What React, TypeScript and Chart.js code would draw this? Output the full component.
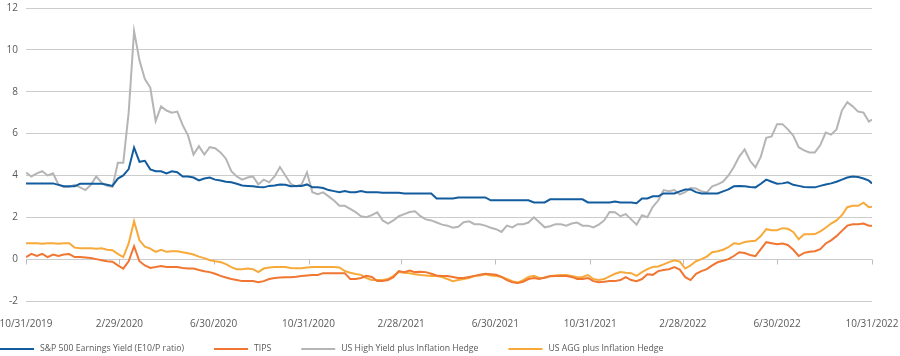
import { useEffect, useRef } from "react";
import { Chart, registerables } from "chart.js";

Chart.register(...registerables);

// ---------- data ----------
const startDate = "2019-10-31";
const endDate = "2022-10-31";
const weekCount = 157;

const tickLabels = [
  "10/31/2019", "2/29/2020", "6/30/2020", "10/31/2020", "2/28/2021",
  "6/30/2021", "10/31/2021", "2/28/2022", "6/30/2022", "10/31/2022",
];

const seriesNames = [
  "S&P 500 Earnings Yield (E10/P ratio)",
  "TIPS",
  "US High Yield plus Inflation Hedge",
  "US AGG plus Inflation Hedge",
];

const seriesColors = ["#135c9e", "#f07632", "#b5b5b5", "#f7aa3a"];

const spEarningsYield = [
  3.62, 3.62, 3.62, 3.62, 3.62, 3.62, 3.55, 3.48, 3.48, 3.48,
  3.6, 3.6, 3.6, 3.6, 3.6, 3.55, 3.5, 3.85, 4.0, 4.3,
  5.33, 4.65, 4.7, 4.29, 4.2, 4.2, 4.1, 4.2, 4.15, 3.95,
  3.95, 3.9, 3.76, 3.85, 3.9, 3.8, 3.76, 3.7, 3.67, 3.6,
  3.52, 3.5, 3.48, 3.45, 3.43, 3.5, 3.52, 3.57, 3.55, 3.48,
  3.5, 3.5, 3.57, 3.43, 3.43, 3.4, 3.3, 3.25, 3.2, 3.25,
  3.2, 3.2, 3.25, 3.2, 3.2, 3.2, 3.17, 3.17, 3.17, 3.17,
  3.14, 3.14, 3.14, 3.14, 3.14, 3.14, 2.9, 2.9, 2.9, 2.9,
  2.95, 2.95, 2.95, 2.95, 2.95, 2.95, 2.81, 2.81, 2.81, 2.81,
  2.81, 2.81, 2.81, 2.81, 2.71, 2.71, 2.71, 2.86, 2.86, 2.86,
  2.86, 2.86, 2.86, 2.86, 2.71, 2.71, 2.71, 2.71, 2.71, 2.75,
  2.71, 2.71, 2.71, 2.67, 2.9, 2.9, 3.0, 3.0, 3.14, 3.14,
  3.14, 3.24, 3.33, 3.33, 3.2, 3.14, 3.14, 3.14, 3.14, 3.24,
  3.33, 3.48, 3.5, 3.48, 3.45, 3.43, 3.6, 3.8, 3.7, 3.6,
  3.62, 3.67, 3.55, 3.5, 3.45, 3.43, 3.43, 3.5, 3.57, 3.62,
  3.7, 3.8, 3.9, 3.95, 3.92, 3.85, 3.75, 3.62,
];

const tips = [
  0.1, 0.25, 0.15, 0.25, 0.1, 0.22, 0.15, 0.22, 0.24, 0.1,
  0.1, 0.08, 0.05, 0.0, -0.05, -0.1, -0.12, -0.3, -0.45, -0.1,
  0.62, -0.1, -0.3, -0.42, -0.38, -0.33, -0.38, -0.38, -0.38, -0.42,
  -0.45, -0.45, -0.52, -0.58, -0.62, -0.7, -0.8, -0.88, -0.95, -1.0,
  -1.05, -1.05, -1.05, -1.1, -1.05, -0.95, -0.9, -0.88, -0.86, -0.86,
  -0.84, -0.81, -0.78, -0.76, -0.76, -0.67, -0.67, -0.67, -0.67, -0.67,
  -0.95, -0.95, -0.9, -0.8, -0.85, -1.05, -1.05, -1.0, -0.86, -0.57,
  -0.62, -0.55, -0.62, -0.6, -0.62, -0.7, -0.78, -0.81, -0.81, -0.85,
  -0.9, -0.9, -0.85, -0.8, -0.75, -0.7, -0.72, -0.75, -0.85, -1.0,
  -1.1, -1.14, -1.08, -0.95, -0.9, -0.95, -0.88, -0.82, -0.8, -0.8,
  -0.81, -0.85, -0.95, -0.95, -0.9, -1.05, -1.1, -1.08, -1.05, -1.05,
  -1.0, -0.86, -1.0, -1.05, -0.95, -0.72, -0.75, -0.57, -0.52, -0.48,
  -0.38, -0.5, -0.86, -1.0, -0.7, -0.57, -0.48, -0.3, -0.15, -0.08,
  0.0, 0.15, 0.33, 0.29, 0.2, 0.14, 0.48, 0.81, 0.76, 0.71,
  0.75, 0.68, 0.45, 0.15, 0.3, 0.35, 0.38, 0.48, 0.75, 0.9,
  1.1, 1.35, 1.6, 1.67, 1.67, 1.7, 1.6, 1.6,
];

const highYieldHedge = [
  4.14, 3.95, 4.1, 4.2, 4.0, 4.1, 3.57, 3.45, 3.45, 3.55,
  3.43, 3.3, 3.55, 3.95, 3.65, 3.5, 3.45, 4.6, 4.6, 7.0,
  10.9, 9.5, 8.6, 8.2, 6.6, 7.3, 7.1, 7.0, 7.05, 6.4,
  5.9, 5.0, 5.4, 5.0, 5.35, 5.3, 5.1, 4.8, 4.2, 3.95,
  3.8, 3.9, 3.95, 3.57, 3.8, 3.67, 3.95, 4.4, 4.0, 3.6,
  3.48, 3.57, 4.14, 3.2, 3.1, 3.19, 3.0, 2.8, 2.55, 2.55,
  2.4, 2.25, 2.05, 2.0, 2.1, 2.24, 1.85, 1.7, 1.85, 2.05,
  2.15, 2.25, 2.29, 2.05, 1.9, 1.85, 1.75, 1.65, 1.6, 1.5,
  1.55, 1.76, 1.81, 1.67, 1.67, 1.6, 1.5, 1.43, 1.3, 1.6,
  1.52, 1.67, 1.67, 1.75, 2.0, 1.76, 1.52, 1.57, 1.67, 1.67,
  1.6, 1.7, 1.75, 1.6, 1.6, 1.52, 1.65, 1.85, 2.25, 2.24,
  2.05, 2.15, 1.9, 1.65, 2.1, 2.0, 2.5, 2.8, 3.3, 3.24,
  3.3, 3.1, 3.2, 3.4, 3.38, 3.24, 3.19, 3.48, 3.57, 3.7,
  4.0, 4.4, 4.9, 5.24, 4.7, 4.38, 4.9, 5.8, 5.86, 6.45,
  6.45, 6.2, 5.9, 5.35, 5.2, 5.1, 5.1, 5.45, 6.05, 5.95,
  6.2, 7.1, 7.5, 7.3, 7.05, 7.0, 6.57, 6.67,
];

const aggHedge = [
  0.76, 0.76, 0.76, 0.74, 0.76, 0.76, 0.74, 0.76, 0.76, 0.55,
  0.52, 0.52, 0.52, 0.5, 0.52, 0.45, 0.43, 0.25, 0.1, 0.75,
  1.81, 0.9, 0.6, 0.5, 0.35, 0.45, 0.35, 0.38, 0.38, 0.33,
  0.28, 0.22, 0.12, 0.05, -0.05, -0.1, -0.14, -0.24, -0.38, -0.48,
  -0.48, -0.45, -0.48, -0.62, -0.45, -0.4, -0.38, -0.38, -0.38, -0.42,
  -0.43, -0.43, -0.4, -0.38, -0.38, -0.38, -0.38, -0.38, -0.4, -0.57,
  -0.65, -0.71, -0.75, -0.9, -1.0, -1.0, -1.0, -0.95, -0.8, -0.62,
  -0.65, -0.67, -0.72, -0.76, -0.78, -0.8, -0.81, -0.86, -0.95, -1.05,
  -1.0, -0.95, -0.9, -0.81, -0.78, -0.72, -0.78, -0.8, -0.85, -0.95,
  -1.05, -1.12, -1.0, -0.85, -0.8, -0.9, -0.9, -0.8, -0.78, -0.76,
  -0.76, -0.8, -0.86, -0.85, -0.76, -0.95, -1.0, -0.95, -0.82, -0.7,
  -0.62, -0.65, -0.67, -0.8, -0.62, -0.48, -0.38, -0.35, -0.25, -0.14,
  -0.05, -0.12, -0.45, -0.3, -0.1, 0.0, 0.12, 0.33, 0.38, 0.45,
  0.57, 0.76, 0.72, 0.82, 0.86, 0.88, 1.1, 1.43, 1.38, 1.38,
  1.48, 1.45, 1.3, 0.95, 1.19, 1.19, 1.2, 1.33, 1.5, 1.7,
  1.85, 2.1, 2.48, 2.55, 2.55, 2.7, 2.48, 2.5,
];

// ---------- helpers ----------
const DAY = 86400000;
const toUTC = (iso: string) => {
  const [y, m, d] = iso.split("-").map(Number);
  return Date.UTC(y, m - 1, d);
};
const fromLabel = (lbl: string) => {
  const [m, d, y] = lbl.split("/").map(Number);
  return Date.UTC(y, m - 1, d);
};
const t0 = toUTC(startDate);
const dayIndex = [
  ...Array.from({ length: weekCount }, (_, i) => i * 7),
  Math.round((toUTC(endDate) - t0) / DAY),
];
const tickDays = tickLabels.map((l) => Math.round((fromLabel(l) - t0) / DAY));

const allSeries = [spEarningsYield, tips, highYieldHedge, aggHedge];

const FONT = "'Open Sans', 'DejaVu Sans', sans-serif";
const TEXT = "#595959";

const zeroTicksPlugin = {
  id: "zeroTicks",
  beforeDatasetsDraw(chart: any) {
    const { ctx, scales } = chart;
    const x = scales.x;
    const y = scales.y;
    const y0 = Math.round(y.getPixelForValue(0)) + 0.5;
    ctx.save();
    ctx.strokeStyle = "#bdbdbd";
    ctx.lineWidth = 1;
    ctx.beginPath();
    tickDays.forEach((d) => {
      const px = Math.round(x.getPixelForValue(d)) + 0.5;
      ctx.moveTo(px, y0);
      ctx.lineTo(px, y0 + 5);
    });
    ctx.stroke();
    ctx.restore();
  },
};

const bottomLegendPlugin = {
  id: "bottomLegend",
  afterDraw(chart: any) {
    const { ctx } = chart;
    const lineLen = 34;
    const textGap = 6;
    const itemGap = 30;
    const yMid = chart.height - 7;
    ctx.save();
    ctx.font = `8.7px ${FONT}`;
    ctx.textBaseline = "middle";
    ctx.textAlign = "left";
    let x = 0;
    chart.data.datasets.forEach((ds: any) => {
      ctx.strokeStyle = ds.borderColor;
      ctx.lineWidth = 2;
      ctx.beginPath();
      ctx.moveTo(x, yMid);
      ctx.lineTo(x + lineLen, yMid);
      ctx.stroke();
      ctx.fillStyle = TEXT;
      ctx.fillText(ds.label, x + lineLen + textGap, yMid);
      x += lineLen + textGap + ctx.measureText(ds.label).width + itemGap;
    });
    ctx.restore();
  },
};

export default function App() {
  const ref = useRef<HTMLCanvasElement>(null);

  useEffect(() => {
    document.body.style.margin = "0";
    const canvas = ref.current;
    if (!canvas) return;
    const chart = new Chart(canvas, {
      type: "line",
      data: {
        datasets: seriesNames.map((name, si) => ({
          label: name,
          data: allSeries[si].map((v, i) => ({ x: dayIndex[i], y: v })),
          borderColor: seriesColors[si],
          backgroundColor: seriesColors[si],
          borderWidth: 2,
          pointRadius: 0,
          pointHoverRadius: 0,
          tension: 0,
          fill: false,
        })),
      },
      options: {
        animation: false,
        responsive: false,
        devicePixelRatio: 1,
        layout: { padding: { top: 8, right: 28, left: 0, bottom: 0 } },
        plugins: {
          legend: { display: false },
          tooltip: { enabled: false },
        },
        scales: {
          x: {
            type: "linear",
            min: 0,
            max: tickDays[tickDays.length - 1],
            grid: { display: false, drawTicks: false },
            border: { display: false },
            afterBuildTicks: (scale: any) => {
              scale.ticks = tickDays.map((v) => ({ value: v }));
            },
            afterFit: (scale: any) => {
              scale.height = 55;
              scale.paddingLeft = 0;
              scale.paddingRight = 0;
            },
            ticks: {
              autoSkip: false,
              maxRotation: 0,
              padding: 17,
              color: TEXT,
              font: { family: FONT, size: 10 },
              callback: (value: any) => {
                const idx = tickDays.indexOf(Number(value));
                return idx >= 0 ? tickLabels[idx] : "";
              },
            },
          },
          y: {
            min: -2,
            max: 12,
            grid: { color: "#cccccc", lineWidth: 1, drawTicks: false },
            border: { display: false },
            afterFit: (scale: any) => {
              scale.width = 26;
              scale.paddingTop = 0;
              scale.paddingBottom = 0;
            },
            ticks: {
              stepSize: 2,
              padding: 8,
              color: TEXT,
              font: { family: FONT, size: 10 },
            },
          },
        },
      },
      plugins: [zeroTicksPlugin, bottomLegendPlugin],
    });
    return () => chart.destroy();
  }, []);

  return (
    <div style={{ width: 900, height: 356 }}>
      <canvas ref={ref} width={900} height={356} style={{ display: "block" }} />
    </div>
  );
}
